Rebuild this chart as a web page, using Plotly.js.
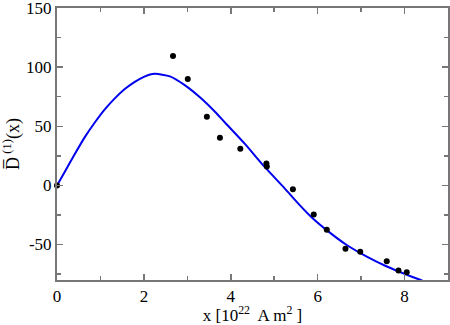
<!DOCTYPE html>
<html>
<head>
<meta charset="utf-8">
<script src="https://cdn.plot.ly/plotly-3.0.1.min.js"></script>
<style>html,body{margin:0;padding:0;background:#fff;}#chart{width:450px;height:325px;}</style>
</head>
<body>
<div id="chart"></div>
<script>
// Data points (x in 10^22 A m^2, D values)
var pointX = [0, 2.67, 3.01, 3.45, 3.75, 4.22, 4.82, 4.83, 5.43, 5.91, 6.21, 6.64, 6.98, 7.59, 7.86, 8.05];
var pointY = [0, 109.5, 90, 58, 40.3, 31, 18.5, 16, -3.2, -24.6, -37.6, -53.6, -56.2, -64.1, -72, -73.4];

// Fitted curve
var curveX = [0, 0.18, 0.41, 0.64, 0.87, 1.10, 1.33, 1.56, 1.79, 2.0, 2.25, 2.60, 2.94, 3.29, 3.63, 3.86, 4.32, 4.78, 5.24, 5.57, 5.89, 6.20, 6.66, 7.12, 7.58, 8.04, 8.34, 8.5];
var curveY = [0, 11.5, 26.5, 40.8, 53.2, 64.3, 73.6, 81.5, 87.6, 91.8, 94.3, 92.2, 84.8, 74.5, 62.5, 53.4, 35.3, 15.6, -2.5, -16, -28, -37.6, -50.2, -60, -68.4, -75.4, -79.6, -82];

var xTicks = [0, 2, 4, 6, 8];
var yTicks = [-50, 0, 50, 100, 150];

var serif = '"Liberation Serif", "Times New Roman", serif';

var axisCommon = {
  showgrid: false, zeroline: false, showline: true, mirror: 'ticks',
  linecolor: '#777777', linewidth: 2,
  ticks: 'inside', ticklen: 6, tickwidth: 1.5, tickcolor: '#777777',
  ticklabeloverflow: 'allow',
  tickfont: {family: serif, size: 17, color: '#000'},
  minor: {ticks: 'inside', ticklen: 4, tickwidth: 1.5, tickcolor: '#777777', showgrid: false}
};

var layout = {
  width: 450, height: 325,
  margin: {l: 57, r: 2, t: 8, b: 45},
  paper_bgcolor: '#fff', plot_bgcolor: '#fff',
  showlegend: false,
  font: {family: serif},
  xaxis: Object.assign({}, axisCommon, {
    range: [0, 9], tickmode: 'array', tickvals: xTicks, ticktext: xTicks.map(String),
    minor: Object.assign({}, axisCommon.minor, {dtick: 1, tick0: 0}),
    title: {text: 'x [10<sup>22</sup>  A m<sup>2</sup> ]', font: {family: serif, size: 17, color: '#000'}, standoff: 6}
  }),
  yaxis: Object.assign({}, axisCommon, {
    range: [-80, 150], tickmode: 'array', tickvals: yTicks, ticktext: yTicks.map(String),
    minor: Object.assign({}, axisCommon.minor, {dtick: 25, tick0: 0}),
    title: {text: 'D\u0305<sup> (1)</sup>(x)', font: {family: serif, size: 18, color: '#000'}, standoff: 4}
  })
};

var traces = [
  {x: curveX, y: curveY, mode: 'lines', line: {color: '#0000ee', width: 2, shape: 'spline', smoothing: 0.6}, hoverinfo: 'skip'},
  {x: pointX, y: pointY, mode: 'markers', marker: {color: '#000', size: 6}, cliponaxis: false}
];

Plotly.newPlot('chart', traces, layout, {staticPlot: true, displayModeBar: false});
</script>
</body>
</html>
